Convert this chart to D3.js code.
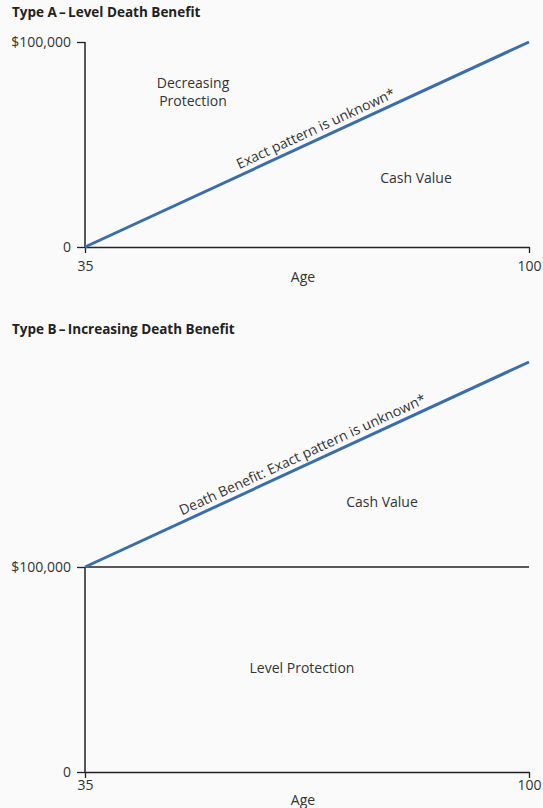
<!DOCTYPE html>
<html>
<head>
<meta charset="utf-8">
<script src="https://cdn.jsdelivr.net/npm/d3@7"></script>
<style>
  body { margin: 0; background: #fafafa; }
  svg { display: block; font-family: "Open Sans", sans-serif; }
  .lbl { font-size: 14px; fill: #333; }
  .title { font-size: 13.5px; font-weight: bold; fill: #222; }
  .axis text { font-size: 14px; fill: #333; font-family: "Open Sans", sans-serif; }
  .axis line, .axis path { stroke: #222; }
</style>
</head>
<body>
<div id="chart"></div>
<script>
  // === data ===
  const ages = [35, 100];
  const ageTicks = [35, 100];
  const valueTicks = [0, 100000];
  const typeACash = [0, 100000];          // line splitting protection / cash value
  const typeBLevel = [100000, 100000];    // level protection ceiling
  const typeBDeath = [100000, 200000];    // increasing death benefit

  const titleA = "Type A\u2009\u2013\u2009Level Death Benefit";
  const titleB = "Type B\u2009\u2013\u2009Increasing Death Benefit";
  const lineLabelA = "Exact pattern is unknown*";
  const lineLabelB = "Death Benefit: Exact pattern is unknown*";

  const width = 543, height = 808;
  const blue = "#3b6ea8";

  const svg = d3.select("#chart").append("svg")
    .attr("width", width).attr("height", height);

  const fmt = (v) => (v === 0 ? "0" : d3.format("$,")(v));

  // text along a sloped line
  function slopeLabel(g, x, y, xs, ys, t, off, text) {
    const p0 = [x(xs[0]), y(ys[0])], p1 = [x(xs[1]), y(ys[1])];
    const a = Math.atan2(p1[1] - p0[1], p1[0] - p0[0]);
    const px = p0[0] + (p1[0] - p0[0]) * t + Math.sin(a) * off;
    const py = p0[1] + (p1[1] - p0[1]) * t - Math.cos(a) * off;
    g.append("text").attr("class", "lbl")
      .attr("text-anchor", "middle")
      .attr("transform", `translate(${px},${py}) rotate(${a * 180 / Math.PI})`)
      .text(text);
  }

  function panel(opts) {
    const g = svg.append("g");
    const x = d3.scaleLinear().domain(d3.extent(ages)).range([85, 529]);
    const y = d3.scaleLinear().domain(opts.yDomain).range(opts.yRange);

    g.append("text").attr("class", "title")
      .attr("x", 12).attr("y", opts.titleY).text(opts.title);

    // y axis (ticks only, spine drawn from 0 to 100,000)
    const ya = g.append("g").attr("class", "axis")
      .attr("transform", `translate(${x(ages[0])},0)`)
      .call(d3.axisLeft(y).tickValues(valueTicks).tickFormat(fmt).tickSize(8).tickPadding(6));
    ya.select(".domain").remove();
    ya.selectAll("line").attr("stroke-width", 1.3);
    g.append("line")
      .attr("x1", x(ages[0])).attr("x2", x(ages[0]))
      .attr("y1", y(0)).attr("y2", y(valueTicks[1]))
      .attr("stroke", "#222").attr("stroke-width", 1.5);

    // x axis
    const xa = g.append("g").attr("class", "axis")
      .attr("transform", `translate(0,${y(0)})`)
      .call(d3.axisBottom(x).tickValues(ageTicks).tickSizeInner(6).tickSizeOuter(0).tickPadding(opts.tickPad));
    xa.select(".domain").attr("stroke-width", 1.5);
    xa.selectAll("line").attr("stroke-width", 1.3);
    xa.selectAll(".tick text").filter((d) => d === ageTicks[1])
      .attr("text-anchor", "end").attr("dx", 12);

    g.append("text").attr("class", "lbl").attr("text-anchor", "middle")
      .attr("x", 303).attr("y", y(0) + opts.ageOff).text("Age");

    opts.draw(g, x, y);
  }

  const line = (x, y) => d3.line().x((d, i) => x(ages[i])).y((d) => y(d));

  // Type A
  panel({
    title: titleA, titleY: 17,
    yDomain: [0, 100000], yRange: [247, 42],
    tickPad: 8, ageOff: 35,
    draw: (g, x, y) => {
      g.append("path").datum(typeACash)
        .attr("d", line(x, y)).attr("fill", "none")
        .attr("stroke", blue).attr("stroke-width", 3);
      slopeLabel(g, x, y, ages, typeACash, 0.53, 6, lineLabelA);
      g.append("text").attr("class", "lbl").attr("text-anchor", "middle")
        .attr("x", 193).attr("y", 88).text("Decreasing");
      g.append("text").attr("class", "lbl").attr("text-anchor", "middle")
        .attr("x", 193).attr("y", 106).text("Protection");
      g.append("text").attr("class", "lbl").attr("text-anchor", "middle")
        .attr("x", 416).attr("y", 183).text("Cash Value");
    }
  });

  // Type B
  panel({
    title: titleB, titleY: 334,
    yDomain: [0, 200000], yRange: [772, 362],
    tickPad: 2, ageOff: 33,
    draw: (g, x, y) => {
      g.append("path").datum(typeBLevel)
        .attr("d", line(x, y)).attr("fill", "none")
        .attr("stroke", "#222").attr("stroke-width", 1.5);
      g.append("path").datum(typeBDeath)
        .attr("d", line(x, y)).attr("fill", "none")
        .attr("stroke", blue).attr("stroke-width", 3);
      slopeLabel(g, x, y, ages, typeBDeath, 0.5, 6, lineLabelB);
      g.append("text").attr("class", "lbl").attr("text-anchor", "middle")
        .attr("x", 382).attr("y", 507).text("Cash Value");
      g.append("text").attr("class", "lbl").attr("text-anchor", "middle")
        .attr("x", 302).attr("y", 673).text("Level Protection");
    }
  });
</script>
</body>
</html>
